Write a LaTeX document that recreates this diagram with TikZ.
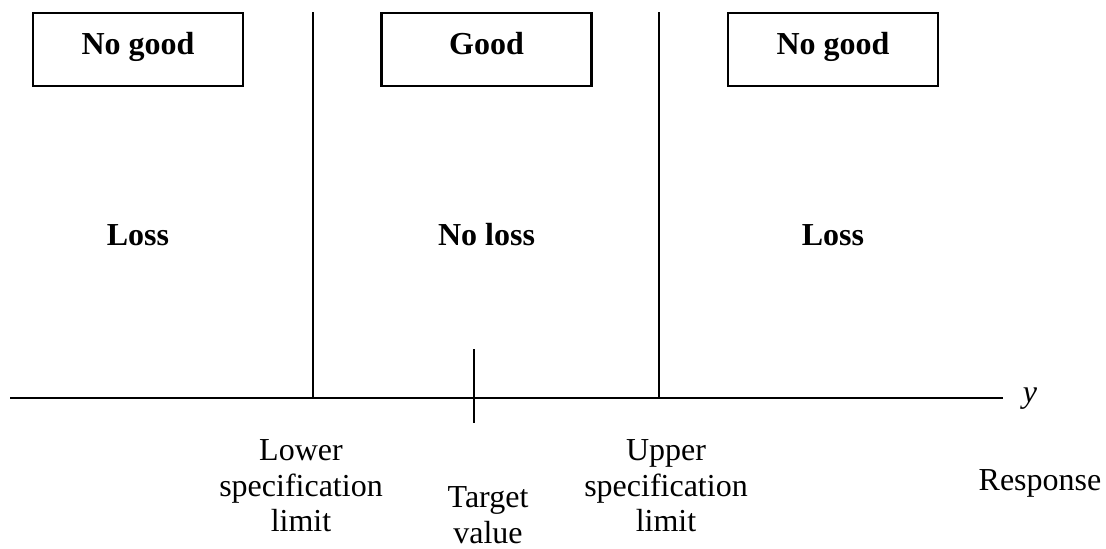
\documentclass[tikz,border=0pt]{standalone}
\usepackage{fontspec}
\setmainfont{Liberation Serif}
\begin{document}
\begin{tikzpicture}[x=0.5pt,y=-0.5pt,
  every node/.style={inner sep=0pt, outer sep=0pt},
  line/.style={line width=1.1pt, black},
  gradebox/.style={draw, line width=1.1pt, minimum width=105pt, minimum height=36.5pt},
  boxtext/.style={font=\fontsize{16pt}{19pt}\selectfont\bfseries, anchor=base},
  zonetext/.style={font=\fontsize{16pt}{19pt}\selectfont\bfseries, anchor=base},
  axislabel/.style={font=\fontsize{16pt}{17.75pt}\selectfont, align=center}]
  \useasboundingbox (0,0) rectangle (1106,548);

  % classification boxes along the top
  \node[gradebox] (boxL) at (138,49.5) {};
  \node[gradebox] (boxM) at (486.5,49.5) {};
  \node[gradebox] (boxR) at (833,49.5) {};
  \node[boxtext] (tL) at (138,54) {No good};
  \node[boxtext] (tM) at (486.5,54) {Good};
  \node[boxtext] (tR) at (833,54) {No good};

  % loss zones
  \node[zonetext] (zL) at (138,245) {Loss};
  \node[zonetext] (zM) at (486.5,245) {No loss};
  \node[zonetext] (zR) at (833,245) {Loss};

  % response axis and specification limits
  \coordinate (axL) at (10,398);
  \coordinate (axR) at (1003,398);
  \coordinate (lslTop) at (313,12);
  \coordinate (lslBot) at (313,398);
  \coordinate (uslTop) at (659,12);
  \coordinate (uslBot) at (659,398);
  \coordinate (tgtTop) at (474,349);
  \coordinate (tgtBot) at (474,423);
  \draw[line] (axL) -- (axR);
  \draw[line] (lslTop) -- (lslBot);
  \draw[line] (uslTop) -- (uslBot);
  \draw[line] (tgtTop) -- (tgtBot);

  \node[font=\fontsize{16pt}{19pt}\selectfont\itshape, anchor=base] (yl) at (1030,402) {y};

  % axis annotations
  \node[axislabel] (lsl) at (301,486) {Lower\\specification\\limit};
  \node[axislabel] (tgt) at (488,515) {Target\\value};
  \node[axislabel] (usl) at (666,486) {Upper\\specification\\limit};
  \node[font=\fontsize{16pt}{19pt}\selectfont, anchor=base] (resp) at (1040,490) {Response};
\end{tikzpicture}
\end{document}
